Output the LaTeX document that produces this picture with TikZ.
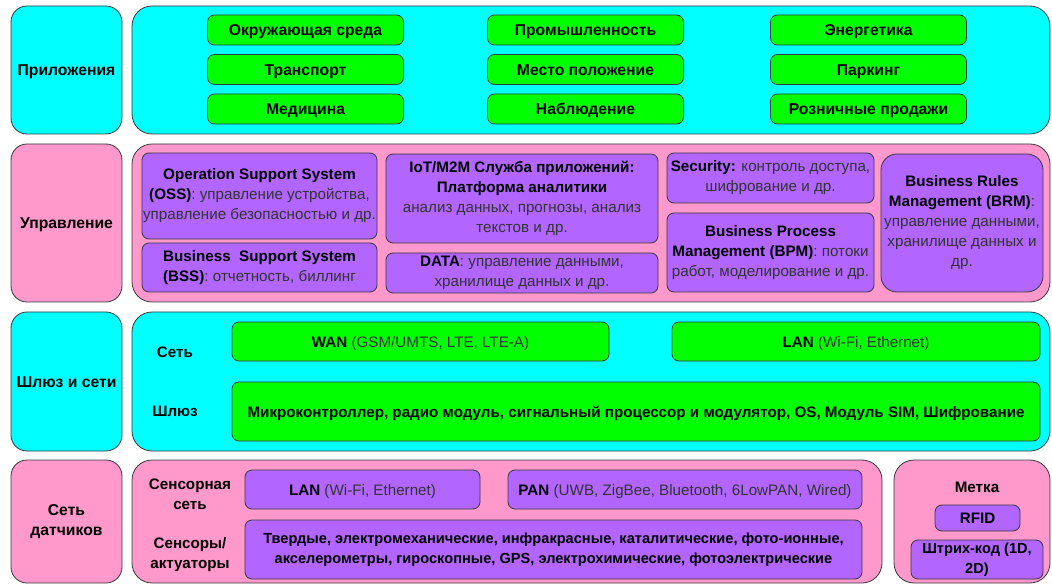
\documentclass[tikz,border=0pt]{standalone}
\usepackage{fontspec}
\setmainfont{Liberation Sans}
\definecolor{appcyan}{HTML}{00FFFF}
\definecolor{appgreen}{HTML}{00FF00}
\definecolor{mgmtpink}{HTML}{FF99CC}
\definecolor{mgmtviolet}{HTML}{B266FF}
\definecolor{edgegray}{HTML}{36393D}
\definecolor{txtgray}{HTML}{333333}
\newcommand{\grtxt}[1]{\textcolor{txtgray}{#1}}
\newcommand{\linebox}{\rule[-3.4pt]{0pt}{18pt}} % line box of one text line

\begin{document}
\begin{tikzpicture}[
            x = 1pt, y = -1pt, % one unit per pixel, y goes down
            every node/.style = {font=\fontsize{15.2}{20}\selectfont, align=center, inner sep=0pt,
                execute at begin node=\linebox, execute at end node=\linebox},
            lbl/.style = {font=\fontsize{15.2}{20}\selectfont\bfseries}, % bold text
            big/.style = {font=\fontsize{15.7}{20}\selectfont\bfseries}, % bold, a bit larger
            small/.style = {font=\fontsize{14.6}{20}\selectfont\bfseries}, % bold, a bit smaller
            sz/.style 2 args = {minimum width=#1, minimum height=#2},
            side/.style = {draw=edgegray, line width=0.8pt, rounded corners=16pt, big},
            band/.style = {draw=edgegray, line width=0.8pt, rounded corners=20pt},
            cell/.style = {draw=edgegray, line width=0.8pt, rounded corners=7pt}
        ]

        \useasboundingbox (0,0) rectangle (1052,585);

        % applications
        \node[side, fill=appcyan, sz={111}{128}] (apps) at (66.5,70) {Приложения};
        \node[band, fill=appcyan, sz={918}{128}] (appsband) at (591,70) {};
        \node[cell, fill=appgreen, sz={196}{30}, big] (env) at (305.5,30) {Окружающая среда};
        \node[cell, fill=appgreen, sz={196}{30}, big] (trans) at (305.5,69.5) {Транспорт};
        \node[cell, fill=appgreen, sz={196}{30}, big] (med) at (305.5,109) {Медицина};
        \node[cell, fill=appgreen, sz={196}{30}, big] (ind) at (585.5,30) {Промышленность};
        \node[cell, fill=appgreen, sz={196}{30}, big] (loc) at (585.5,69.5) {Место положение};
        \node[cell, fill=appgreen, sz={196}{30}, big] (watch) at (585.5,109) {Наблюдение};
        \node[cell, fill=appgreen, sz={196}{30}, big] (energy) at (868.5,30) {Энергетика};
        \node[cell, fill=appgreen, sz={196}{30}, big] (park) at (868.5,69.5) {Паркинг};
        \node[cell, fill=appgreen, sz={196}{30}, big] (retail) at (868.5,109) {Розничные продажи};

        % management
        \node[side, fill=mgmtpink, sz={111}{158}] (mgmt) at (66.5,223) {Управление};
        \node[band, fill=mgmtpink, sz={918}{158}] (mgmtband) at (591,223) {};
        \node[cell, fill=mgmtviolet, sz={235}{86}] (oss) at (259.5,196)
            {\textbf{Operation Support System}\\\textbf{(OSS)}\grtxt{: управление устройства,}\\\grtxt{управление безопасностью и др.}};
        \node[cell, fill=mgmtviolet, sz={235}{49}] (bss) at (259.5,267.5)
            {\textbf{Business\ \ Support System}\\\textbf{(BSS)}\grtxt{: отчетность, биллинг}};
        \node[cell, fill=mgmtviolet, sz={272}{89}] (iot) at (522,198.5)
            {\textbf{IoT/M2M Служба приложений:}\\\textbf{Платформа аналитики}\\\grtxt{анализ данных, прогнозы, анализ}\\\grtxt{текстов и др.}};
        \node[cell, fill=mgmtviolet, sz={272}{40}] (data) at (522,273)
            {\textbf{DATA}\grtxt{: управление данными,}\\\grtxt{хранилище данных и др.}};
        \node[cell, fill=mgmtviolet, sz={207}{50}] (sec) at (770.5,178)
            {\textbf{Security:} \grtxt{контроль доступа,}\\\grtxt{шифрование и др.}};
        \node[cell, fill=mgmtviolet, sz={207}{79}] (bpm) at (770.5,252.5)
            {\textbf{Business Process}\\\textbf{Management (BPM)}\grtxt{: потоки}\\\grtxt{работ, моделирование и др.}};
        \node[cell, fill=mgmtviolet, sz={162}{138}, rounded corners=16pt] (brm) at (962,223)
            {\textbf{Business Rules}\\\textbf{Management (BRM)}\grtxt{:}\\\grtxt{управление данными,}\\\grtxt{хранилище данных и}\\\grtxt{др.}};

        % gateway and networks
        \node[side, fill=appcyan, sz={111}{139}] (gwnet) at (66.5,381.5) {Шлюз и сети};
        \node[band, fill=appcyan, sz={918}{139}] (gwband) at (591,381.5) {};
        \node[lbl] (netlbl) at (175,352) {Сеть};
        \node[lbl] (gwlbl) at (175,411) {Шлюз};
        \node[cell, fill=appgreen, sz={377}{39}] (wan) at (420.5,341.5)
            {\textbf{WAN} \grtxt{(GSM/UMTS, LTE, LTE-A)}};
        \node[cell, fill=appgreen, sz={368}{39}] (lan) at (856,341.5)
            {\textbf{LAN} \grtxt{(Wi-Fi, Ethernet)}};
        \node[cell, fill=appgreen, sz={808}{59}, lbl] (gw) at (636,411.5)
            {Микроконтроллер, радио модуль, сигнальный процессор и модулятор, OS, Модуль SIM, Шифрование};

        % sensor network
        \node[side, fill=mgmtpink, sz={111}{123}] (sens) at (66.5,521.5) {Сеть\\датчиков};
        \node[band, fill=mgmtpink, sz={750}{123}] (sensband) at (507,521.5) {};
        \node[band, fill=mgmtpink, sz={156}{123}] (tag) at (972,521.5) {};
        \node[lbl] (snetlbl) at (190,496) {Сенсорная\\сеть};
        \node[lbl] (actlbl) at (190,555) {Сенсоры/\\актуаторы};
        \node[cell, fill=mgmtviolet, sz={235}{39}] (slan) at (362.5,489.5)
            {\textbf{LAN} \grtxt{(Wi-Fi, Ethernet)}};
        \node[cell, fill=mgmtviolet, sz={354}{39}] (pan) at (685,489.5)
            {\textbf{PAN} \grtxt{(UWB, ZigBee, Bluetooth, 6LowPAN, Wired)}};
        \node[cell, fill=mgmtviolet, sz={617}{59}, small] (act) at (553.5,549.5)
            {Твердые, электромеханические, инфракрасные, каталитические, фото-ионные,\\акселерометры, гироскопные, GPS, электрохимические, фотоэлектрические};
        \node[lbl] (taglbl) at (977,487) {Метка};
        \node[cell, fill=mgmtviolet, sz={85}{26}, lbl] (rfid) at (977.5,518) {RFID};
        \node[cell, fill=mgmtviolet, sz={132}{39}, small] (barcode) at (977,559.5) {Штрих-код (1D,\\2D)};

    \end{tikzpicture}
\end{document}
